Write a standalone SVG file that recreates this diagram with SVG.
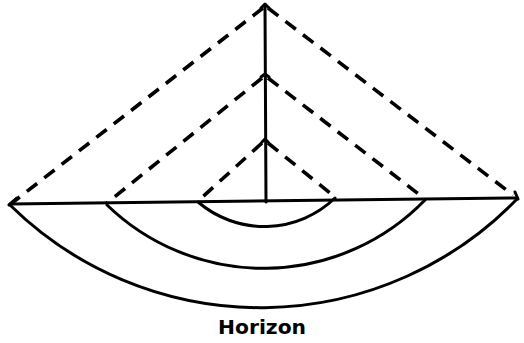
<svg xmlns="http://www.w3.org/2000/svg" width="524" height="343" viewBox="0 0 524 343">
<style>
.s{fill:none;stroke:#000;stroke-width:3;stroke-linecap:round;stroke-linejoin:round}
.d{fill:none;stroke:#000;stroke-width:3.6;stroke-dasharray:13 9;stroke-linecap:butt}
.t{font-family:"DejaVu Sans","Liberation Sans",sans-serif;font-weight:bold;font-size:19px;fill:#000}
</style>
<rect width="524" height="343" fill="#fff"/>
<g id="connectors">
<line class="s" x1="10" y1="204" x2="517" y2="198"/>
<line class="s" x1="265" y1="5" x2="266" y2="202"/>
<path class="d" d="M263 8 L12 203"/>
<path class="d" d="M268 8 L513 195"/>
<path class="d" d="M262 78 L107 203"/>
<path class="d" d="M268 78 L425 199"/>
<path class="d" d="M262 143 L198 201"/>
<path class="d" d="M268 143 L335 197"/>
<path class="s" d="M198 202 A102 102 0 0 0 335 198"/>
<path class="s" d="M107 205 A225 225 0 0 0 425 200"/>
<path class="s" d="M10 205 A357 357 0 0 0 517 199"/>
<path class="s" d="M17 198 L9 205 M515 192 L518 199"/>
<path class="s" d="M261 8 L265 4 L269 8 M261 77 L265 74 L269 77 M262 142 L265 139 L268 142"/>
</g>
<g id="label">
<text class="t" x="262" y="334" text-anchor="middle" textLength="88" lengthAdjust="spacingAndGlyphs">Horizon</text>
</g>
</svg>
